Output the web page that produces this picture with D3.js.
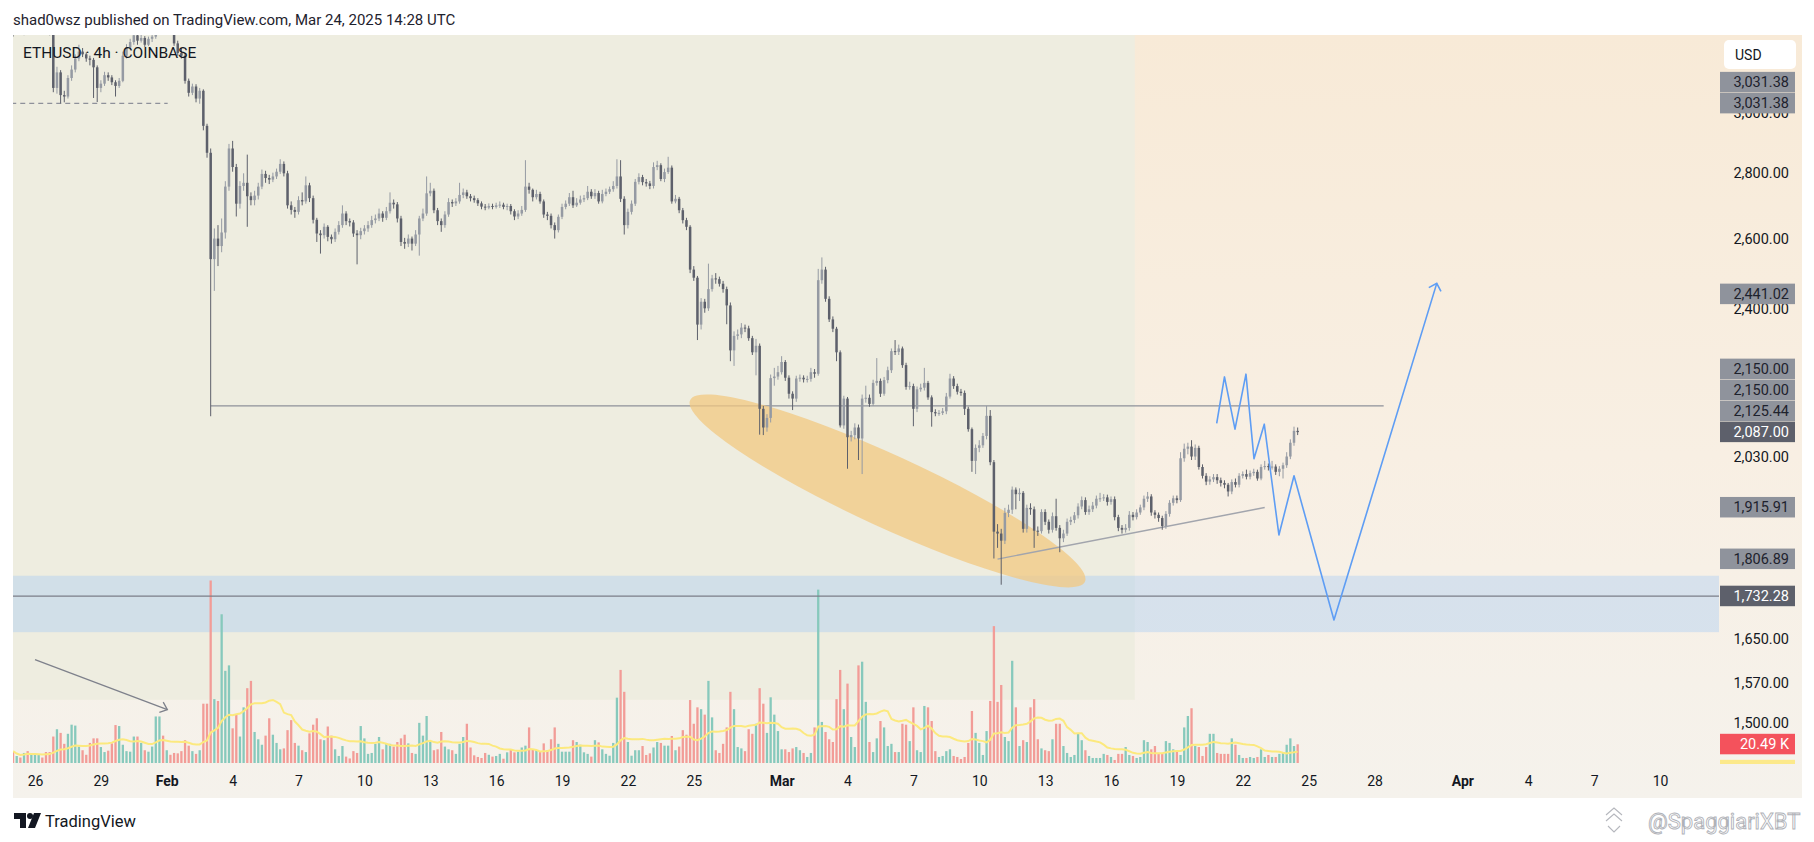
<!DOCTYPE html>
<html>
<head>
<meta charset="utf-8">
<title>ETHUSD 4h</title>
<script src="https://cdnjs.cloudflare.com/ajax/libs/d3/7.8.5/d3.min.js"></script>
<style>
  html, body { margin: 0; padding: 0; background: #ffffff; }
  svg { display: block; font-family: Roboto, "Noto Sans", sans-serif; }
</style>
</head>
<body>
<div id="chart"></div>
<script>
// ---- 4h candles, ETHUSD Coinbase (6 bars per day) ----
const firstBar = "2025-01-25T00:00Z";
const barHours = 4;
const firstOpen = 3325;

const closes = [
  3320, 3335, 3310, 3322, 3305, 3318,   // Jan 25
  3330, 3340, 3325, 3310, 3290, 3085,   // Jan 26
  3140, 3060, 3055, 3120, 3150, 3190,   // Jan 27
  3215, 3205, 3190, 3185, 3158, 3085,   // Jan 28
  3100, 3130, 3122, 3105, 3092, 3110,   // Jan 29
  3200, 3230, 3250, 3275, 3255, 3265,   // Jan 30
  3240, 3262, 3270, 3300, 3320, 3310,   // Jan 31
  3330, 3300, 3245, 3210, 3200, 3110,   // Feb 1
  3068, 3090, 3048, 3075, 2955, 2866,   // Feb 2
  2540, 2600, 2578, 2618, 2758, 2880,   // Feb 3
  2820, 2705, 2760, 2770, 2728, 2716,   // Feb 4
  2730, 2758, 2798, 2785, 2780, 2790,   // Feb 5
  2805, 2830, 2800, 2700, 2686, 2680,   // Feb 6
  2716, 2712, 2762, 2722, 2656, 2615,   // Feb 7
  2610, 2635, 2605, 2598, 2620, 2640,   // Feb 8
  2675, 2652, 2648, 2615, 2610, 2622,   // Feb 9
  2630, 2640, 2655, 2660, 2675, 2662,   // Feb 10
  2682, 2708, 2703, 2660, 2590, 2585,   // Feb 11
  2600, 2585, 2612, 2660, 2675, 2737,   // Feb 12
  2745, 2685, 2652, 2640, 2672, 2710,   // Feb 13
  2706, 2712, 2732, 2740, 2728, 2722,   // Feb 14
  2716, 2706, 2696, 2693, 2698, 2695,   // Feb 15
  2700, 2702, 2695, 2698, 2682, 2666,   // Feb 16
  2675, 2686, 2758, 2748, 2725, 2735,   // Feb 17
  2712, 2672, 2668, 2640, 2625, 2665,   // Feb 18
  2695, 2705, 2725, 2700, 2708, 2718,   // Feb 19
  2722, 2742, 2728, 2738, 2712, 2735,   // Feb 20
  2742, 2750, 2760, 2790, 2720, 2640,   // Feb 21
  2680, 2705, 2773, 2788, 2772, 2768,   // Feb 22
  2760, 2820, 2826, 2782, 2804, 2818,   // Feb 23
  2712, 2720, 2685, 2655, 2635, 2510,   // Feb 24
  2487, 2358, 2420, 2402, 2455, 2485,   // Feb 25
  2483, 2470, 2455, 2410, 2290, 2328,   // Feb 26
  2332, 2350, 2348, 2322, 2285, 2302,   // Feb 27
  2143, 2098, 2121, 2219, 2223, 2234,   // Feb 28
  2260, 2220, 2180, 2168, 2218, 2220,   // Mar 1
  2216, 2217, 2234, 2230, 2480, 2510,   // Mar 2
  2428, 2372, 2347, 2285, 2103, 2168,   // Mar 3
  2075, 2080, 2098, 2072, 2168, 2170,   // Mar 4
  2155, 2207, 2212, 2180, 2214, 2239,   // Mar 5
  2288, 2286, 2295, 2252, 2197, 2199,   // Mar 6
  2143, 2191, 2195, 2207, 2171, 2135,   // Mar 7
  2132, 2133, 2137, 2173, 2218, 2199,   // Mar 8
  2185, 2182, 2143, 2094, 2020, 2050,   // Mar 9
  2056, 2078, 2126, 2017, 1864, 1860,   // Mar 10
  1845, 1904, 1911, 1955, 1945, 1948,   // Mar 11
  1870, 1915, 1912, 1866, 1865, 1906,   // Mar 12
  1885, 1868, 1897, 1872, 1850, 1860,   // Mar 13
  1885, 1889, 1899, 1918, 1932, 1906,   // Mar 14
  1912, 1920, 1935, 1936, 1938, 1928,   // Mar 15
  1934, 1895, 1872, 1868, 1872, 1900,   // Mar 16
  1895, 1905, 1916, 1935, 1940, 1905,   // Mar 17
  1900, 1893, 1876, 1902, 1926, 1936,   // Mar 18
  1932, 2026, 2048, 2053, 2030, 2050,   // Mar 19
  2006, 1986, 1973, 1978, 1983, 1976,   // Mar 20
  1970, 1966, 1951, 1972, 1966, 1986,   // Mar 21
  1990, 1984, 1992, 1995, 1980, 2006,   // Mar 22
  2008, 2006, 2007, 1995, 2002, 2010,   // Mar 23
  2030, 2062, 2090, 2087               // Mar 24
];

const highs = [
  3345, 3348, 3340, 3332, 3330, 3326,
  3342, 3355, 3348, 3332, 3318, 3298,
  3160, 3148, 3075, 3130, 3165, 3205,
  3240, 3228, 3212, 3200, 3192, 3165,
  3112, 3142, 3140, 3130, 3112, 3120,
  3215, 3242, 3262, 3290, 3282, 3278,
  3272, 3270, 3285, 3318, 3340, 3332,
  3345, 3338, 3308, 3255, 3228, 3208,
  3118, 3100, 3098, 3085, 3080, 2962,
  2880, 2630, 2640, 2660, 2775, 2895,
  2905, 2830, 2775, 2800, 2860, 2740,
  2745, 2770, 2812, 2808, 2795, 2802,
  2815, 2845, 2838, 2808, 2712, 2695,
  2728, 2740, 2790, 2770, 2730, 2662,
  2625, 2645, 2640, 2612, 2630, 2652,
  2700, 2682, 2660, 2655, 2625, 2632,
  2640, 2652, 2668, 2672, 2690, 2682,
  2695, 2740, 2718, 2710, 2668, 2602,
  2612, 2606, 2625, 2668, 2690, 2790,
  2770, 2752, 2692, 2660, 2682, 2722,
  2718, 2722, 2770, 2752, 2748, 2735,
  2730, 2722, 2712, 2704, 2706, 2705,
  2708, 2712, 2708, 2705, 2704, 2688,
  2685, 2698, 2842, 2770, 2752, 2748,
  2742, 2718, 2680, 2675, 2648, 2672,
  2705, 2715, 2738, 2745, 2722, 2730,
  2732, 2760, 2750, 2750, 2745, 2748,
  2752, 2758, 2775, 2845, 2842, 2728,
  2690, 2715, 2782, 2800, 2795, 2782,
  2776, 2835, 2840, 2832, 2815, 2853,
  2825, 2732, 2726, 2692, 2662, 2640,
  2520, 2492, 2430, 2428, 2527, 2495,
  2500, 2490, 2478, 2462, 2418, 2340,
  2345, 2362, 2358, 2355, 2328, 2320,
  2308, 2150, 2130, 2228, 2245, 2250,
  2275, 2265, 2226, 2186, 2225, 2228,
  2226, 2225, 2245, 2242, 2512, 2545,
  2518, 2435, 2380, 2352, 2290, 2175,
  2172, 2090, 2108, 2105, 2178, 2200,
  2178, 2215, 2270, 2218, 2222, 2248,
  2295, 2317, 2305, 2300, 2258, 2210,
  2205, 2198, 2205, 2245, 2212, 2176,
  2142, 2140, 2145, 2182, 2230, 2224,
  2205, 2192, 2188, 2148, 2098, 2058,
  2068, 2085, 2150, 2140, 2022, 1880,
  1870, 1915, 1922, 1962, 1960, 1958,
  1952, 1922, 1925, 1918, 1875, 1912,
  1912, 1890, 1905, 1935, 1878, 1868,
  1892, 1896, 1906, 1925, 1940, 1938,
  1920, 1928, 1942, 1948, 1945, 1944,
  1940, 1940, 1900, 1878, 1880, 1908,
  1906, 1912, 1922, 1942, 1950, 1945,
  1910, 1905, 1898, 1908, 1932, 1942,
  1942, 2040, 2060, 2062, 2068, 2058,
  2055, 2012, 1992, 1985, 1990, 1990,
  1982, 1976, 1970, 1978, 1980, 1992,
  1996, 2000, 1998, 2002, 2000, 2012,
  2020, 2014, 2020, 2012, 2008, 2016,
  2040, 2070, 2100, 2098
];

const lows = [
  3270, 3312, 3298, 3275, 3292, 3296,
  3310, 3322, 3315, 3298, 3275, 3070,
  3065, 3031, 3035, 3048, 3110, 3140,
  3180, 3195, 3178, 3165, 3050, 3036,
  3070, 3092, 3110, 3095, 3055, 3085,
  3105, 3190, 3222, 3240, 3240, 3248,
  3232, 3235, 3250, 3262, 3290, 3296,
  3300, 3290, 3236, 3200, 3190, 3100,
  3055, 3060, 3035, 3030, 2940, 2850,
  2125, 2450, 2520, 2560, 2600, 2745,
  2805, 2666, 2690, 2745, 2635, 2700,
  2700, 2718, 2750, 2770, 2766, 2772,
  2782, 2798, 2790, 2690, 2672, 2662,
  2672, 2700, 2705, 2710, 2645, 2590,
  2556, 2600, 2592, 2585, 2590, 2612,
  2632, 2640, 2636, 2605, 2525, 2598,
  2612, 2620, 2632, 2645, 2652, 2650,
  2655, 2675, 2690, 2648, 2578, 2570,
  2575, 2565, 2578, 2550, 2652, 2668,
  2728, 2676, 2640, 2620, 2632, 2665,
  2695, 2698, 2705, 2722, 2720, 2712,
  2708, 2698, 2688, 2685, 2688, 2688,
  2690, 2692, 2688, 2685, 2672, 2655,
  2658, 2668, 2680, 2736, 2712, 2718,
  2705, 2662, 2655, 2630, 2600, 2618,
  2658, 2688, 2698, 2692, 2695, 2702,
  2710, 2716, 2720, 2720, 2705, 2706,
  2728, 2735, 2742, 2752, 2710, 2612,
  2630, 2672, 2698, 2765, 2762, 2758,
  2750, 2752, 2810, 2775, 2772, 2798,
  2705, 2706, 2676, 2645, 2625, 2500,
  2478, 2317, 2345, 2390, 2395, 2448,
  2470, 2462, 2445, 2359, 2262, 2250,
  2318, 2322, 2338, 2315, 2278, 2226,
  2081, 2080, 2088, 2110, 2200, 2215,
  2228, 2212, 2168, 2140, 2160, 2210,
  2208, 2208, 2210, 2220, 2225, 2470,
  2420, 2365, 2338, 2262, 2098, 2095,
  2002, 2065, 2070, 2022, 1990, 2158,
  2148, 2150, 2200, 2172, 2175, 2206,
  2232, 2278, 2278, 2245, 2190, 2190,
  2101, 2135, 2185, 2188, 2165, 2100,
  2125, 2126, 2128, 2130, 2168, 2192,
  2178, 2175, 2128, 2088, 1995, 1990,
  2040, 2050, 2070, 2010, 1808, 1830,
  1755, 1838, 1895, 1902, 1912, 1930,
  1862, 1862, 1900, 1830, 1855, 1860,
  1878, 1860, 1862, 1866, 1821, 1842,
  1855, 1878, 1882, 1892, 1912, 1900,
  1900, 1906, 1914, 1928, 1930, 1920,
  1922, 1888, 1865, 1860, 1862, 1866,
  1888, 1890, 1900, 1910, 1928, 1898,
  1892, 1885, 1868, 1870, 1896, 1920,
  1925, 1928, 2018, 2035, 2022, 2022,
  2000, 1980, 1965, 1966, 1972, 1968,
  1962, 1958, 1940, 1945, 1960, 1960,
  1980, 1978, 1978, 1986, 1975, 1976,
  2000, 1998, 2000, 1988, 1985, 1980,
  2004, 2024, 2055, 2080
];

// volume per bar, thousands of ETH
const volumes = [
  13, 7.7, 6, 11, 13, 9,
  9, 9, 6, 12, 12, 29,
  37, 33, 21, 32, 42, 41,
  18, 14, 9, 22, 27, 27,
  17.5, 12, 13.5, 21.5, 41.6, 40.5,
  20, 13, 12.4, 29, 29, 22,
  14, 12.4, 18, 51, 51, 30,
  14, 9, 11, 10.6, 13, 25,
  19, 13, 10, 14, 65, 65,
  200, 70, 68, 163, 101, 107,
  38, 53, 29, 61, 82, 90,
  34, 26, 20, 30, 49, 31,
  22, 15, 16, 36, 47, 22,
  19, 14, 12, 32.5, 42, 49,
  26, 25, 40, 30, 15, 7.7,
  18.6, 7, 5, 13, 11, 40.5,
  27, 10, 11, 21, 28.5, 15,
  21, 21, 18, 23, 27, 31,
  21.5, 11, 10, 44, 30, 51.5,
  23, 14, 15, 34, 18, 15,
  14, 10, 21, 28.5, 43, 17,
  8.4, 6.6, 5.5, 11, 9, 7,
  7.7, 10, 4.7, 11.7, 15, 11.7,
  12.4, 17, 19, 39, 15, 14,
  12.4, 21.5, 14, 26, 39, 21,
  12.4, 12.4, 12.4, 25, 23, 20,
  11.7, 10, 7, 25, 22.6, 15,
  10, 8, 22, 71.6, 102, 78,
  23, 8, 14, 14, 18.6, 8.8,
  10.6, 17, 23, 22, 19, 19,
  29.6, 14, 18, 36, 31, 69,
  43, 61, 59, 53, 90, 50,
  14, 11, 21, 39, 78, 59,
  17.5, 16, 13, 37, 32, 43,
  82, 65, 33, 72, 53, 35,
  15, 15, 12, 16, 17.5, 14,
  11, 6.6, 11, 39, 190, 45,
  34, 26, 23, 70, 102, 59,
  87, 28.5, 17.5, 107, 111, 67,
  23, 12, 27, 46, 39, 18.6,
  21, 12, 12, 43, 42, 24,
  61, 14, 12, 62.5, 61, 46,
  13, 6.6, 7.7, 13, 15, 7.7,
  6.6, 4.4, 6.6, 22, 57, 33,
  22, 8.8, 35, 68, 150, 67,
  85.5, 28.5, 24, 112, 61, 18.6,
  25, 23, 61, 70, 26, 16,
  14, 13, 26, 43, 43, 18.6,
  11, 6.6, 8.8, 32, 25, 14,
  7.7, 5.5, 5.5, 5.5, 10, 8.8,
  6.6, 3.3, 10, 10, 17.5, 8.8,
  7.7, 5.5, 6.6, 25, 23, 15,
  18.6, 11, 10, 24, 22, 15,
  14, 8.8, 39, 51.5, 60, 18.6,
  17.5, 7.7, 17.5, 32, 32, 11,
  10, 10, 10, 27, 20, 8.8,
  5.5, 5.5, 6.6, 5.5, 6.6, 15,
  6.6, 8.8, 6.6, 6.6, 10, 11,
  20, 27, 18.6, 20.49
];
const volumeMaLength = 20;

// ---- time axis ----
const tickDates = ["2025-01-26", "2025-01-29", "2025-02-01", "2025-02-04", "2025-02-07", "2025-02-10",
  "2025-02-13", "2025-02-16", "2025-02-19", "2025-02-22", "2025-02-25", "2025-03-01", "2025-03-04",
  "2025-03-07", "2025-03-10", "2025-03-13", "2025-03-16", "2025-03-19", "2025-03-22", "2025-03-25",
  "2025-03-28", "2025-04-01", "2025-04-04", "2025-04-07", "2025-04-10"];
const tickLabels = ["26", "29", "Feb", "4", "7", "10", "13", "16", "19", "22", "25", "Mar", "4",
  "7", "10", "13", "16", "19", "22", "25", "28", "Apr", "4", "7", "10"];
const monthLabels = ["Feb", "Mar", "Apr"];

// ---- price axis ----
const priceTicks = [3000, 2800, 2600, 2400, 2030, 1650, 1570, 1500];
const markerPrices = [3031.38, 3031.38, 2441.02, 2150.00, 2150.00, 2125.44, 2087.00, 1915.91, 1806.89, 1732.28];
const markerKinds = ["line", "line", "line", "line", "line", "line", "last", "line", "line", "last"];

// ---- drawings ----
const greenZone = { from: "2025-01-20T00:00Z", to: "2025-03-17T02:00Z", high: 3600, low: 1540 };
const blueZone = { from: "2025-01-20T00:00Z", to: "2025-05-01T00:00Z", high: 1773, low: 1663 };
const supportLevel = { from: "2025-01-20T00:00Z", to: "2025-05-01T00:00Z", price: 1732.28 };
const crashLevel = { from: "2025-02-03T00:00Z", to: "2025-03-28T10:00Z", price: 2150 };
const janLowLevel = { from: "2025-01-20T00:00Z", to: "2025-02-01T01:00Z", price: 3031.38 };
const ellipseTimes = ["2025-02-24T20:00Z", "2025-03-14T19:30Z"];
const ellipsePrices = [2164, 1761];
const trendTimes = ["2025-03-10T20:00Z", "2025-03-23T00:00Z"];
const trendPrices = [1806.89, 1915.91];
const pathTimes = ["2025-03-20T19:30Z", "2025-03-21T04:00Z", "2025-03-21T15:30Z", "2025-03-22T03:30Z",
  "2025-03-22T12:15Z", "2025-03-22T23:30Z", "2025-03-23T15:30Z", "2025-03-24T08:00Z",
  "2025-03-26T03:40Z", "2025-03-30T20:00Z"];
const pathPrices = [2108, 2222, 2094, 2229, 2025, 2106, 1857, 1986, 1686, 2471];
const arrowTimes = ["2025-01-26T00:00Z", "2025-02-01T00:40Z"];
const arrowPrices = [1612, 1523];

/**
 * Draws the TradingView style candlestick snapshot.
 */
function drawChart() {
    const width = 1814, height = 842;
    const pane = { left: 13, right: 1719, top: 35, bottom: 763 };
    const scaleRight = 1802;
    const axisBottom = 798;

    const svg = d3.select("#chart")
        .append("svg")
        .attr("width", width)
        .attr("height", height);

    const defs = svg.append("defs");
    const grad = defs.append("linearGradient")
        .attr("id", "bg").attr("x1", 0).attr("y1", 0).attr("x2", 0).attr("y2", 1);
    grad.append("stop").attr("offset", "0%").attr("stop-color", "#F8EAD7");
    grad.append("stop").attr("offset", "55%").attr("stop-color", "#F8EFE3");
    grad.append("stop").attr("offset", "100%").attr("stop-color", "#F5F2EC");
    defs.append("clipPath").attr("id", "paneClip").append("rect")
        .attr("x", pane.left).attr("y", pane.top)
        .attr("width", pane.right - pane.left).attr("height", pane.bottom - pane.top);
    defs.append("clipPath").attr("id", "scaleClip").append("rect")
        .attr("x", pane.right).attr("y", pane.top)
        .attr("width", scaleRight - pane.right).attr("height", pane.bottom + 1 - pane.top);

    // Scales
    const x = d3.scaleUtc()
        .domain([new Date("2025-01-26T00:00Z"), new Date("2025-04-10T00:00Z")])
        .range([35, 1660]);
    const y = d3.scaleLog()
        .domain([1500, 2800])
        .range([723.0, 173.3]);
    const yVol = d3.scaleLinear()
        .domain([0, 200])
        .range([pane.bottom, 580.5]);

    // Candle records
    const t0 = new Date(firstBar).getTime();
    const bars = closes.map((c, i) => ({
        t: new Date(t0 + i * barHours * 3600e3),
        o: i === 0 ? firstOpen : closes[i - 1],
        h: highs[i],
        l: lows[i],
        c: c,
        v: volumes[i]
    }));
    bars.forEach((b, i) => {
        const from = Math.max(0, i - volumeMaLength + 1);
        b.ma = d3.mean(volumes.slice(from, i + 1));
    });

    // Background for pane, price scale and time scale
    svg.append("rect")
        .attr("x", pane.left).attr("y", pane.top)
        .attr("width", scaleRight - pane.left).attr("height", axisBottom - pane.top)
        .attr("fill", "url(#bg)");

    const plot = svg.append("g").attr("clip-path", "url(#paneClip)");

    const zoneRect = (z, fill) => plot.append("rect")
        .attr("x", x(new Date(z.from)))
        .attr("y", y(z.high))
        .attr("width", x(new Date(z.to)) - x(new Date(z.from)))
        .attr("height", y(z.low) - y(z.high))
        .attr("fill", fill);
    zoneRect(greenZone, "#EEEDE0");
    zoneRect(blueZone, "rgba(156,197,247,0.35)");

    // Volume bars
    plot.append("g").selectAll("rect")
        .data(bars)
        .enter()
        .append("rect")
        .attr("x", d => x(d.t) - 1.15)
        .attr("y", d => yVol(d.v))
        .attr("width", 2.3)
        .attr("height", d => pane.bottom - yVol(d.v))
        .attr("fill", d => d.c >= d.o ? "#87C9BC" : "#F29C97");

    // Volume moving average
    plot.append("path")
        .datum(bars)
        .attr("fill", "none")
        .attr("stroke", "#FCE97E")
        .attr("stroke-width", 2)
        .attr("d", d3.line().x(d => x(d.t)).y(d => yVol(d.ma)));

    // Horizontal levels
    const level = (lv, color, dash) => plot.append("line")
        .attr("x1", x(new Date(lv.from))).attr("x2", x(new Date(lv.to)))
        .attr("y1", y(lv.price)).attr("y2", y(lv.price))
        .attr("stroke", color).attr("stroke-width", 1.3)
        .attr("stroke-dasharray", dash || null);
    level(supportLevel, "#7B7E88");
    level(crashLevel, "#8E919A");
    level(janLowLevel, "#8E919A", "5,4");

    // Highlight ellipse
    const e1 = [x(new Date(ellipseTimes[0])), y(ellipsePrices[0])];
    const e2 = [x(new Date(ellipseTimes[1])), y(ellipsePrices[1])];
    const angle = Math.atan2(e2[1] - e1[1], e2[0] - e1[0]) * 180 / Math.PI;
    plot.append("ellipse")
        .attr("cx", (e1[0] + e2[0]) / 2)
        .attr("cy", (e1[1] + e2[1]) / 2)
        .attr("rx", Math.hypot(e2[0] - e1[0], e2[1] - e1[1]) / 2)
        .attr("ry", 36)
        .attr("transform", `rotate(${angle},${(e1[0] + e2[0]) / 2},${(e1[1] + e2[1]) / 2})`)
        .attr("fill", "rgba(242,200,130,0.75)");

    // Rising trend line
    plot.append("line")
        .attr("x1", x(new Date(trendTimes[0]))).attr("y1", y(trendPrices[0]))
        .attr("x2", x(new Date(trendTimes[1]))).attr("y2", y(trendPrices[1]))
        .attr("stroke", "#A2A5AD").attr("stroke-width", 1.4);

    // Candles
    const candles = plot.append("g").selectAll("g")
        .data(bars)
        .enter()
        .append("g")
        .attr("fill", d => d.c >= d.o ? "#959AA3" : "#5D606B")
        .attr("stroke", d => d.c >= d.o ? "#959AA3" : "#5D606B");
    candles.append("line")
        .attr("x1", d => x(d.t)).attr("x2", d => x(d.t))
        .attr("y1", d => y(d.h)).attr("y2", d => y(d.l))
        .attr("stroke-width", 1);
    candles.append("rect")
        .attr("stroke", "none")
        .attr("x", d => x(d.t) - 1.25)
        .attr("width", 2.5)
        .attr("y", d => y(Math.max(d.o, d.c)))
        .attr("height", d => Math.max(1, y(Math.min(d.o, d.c)) - y(Math.max(d.o, d.c))));

    // Arrow helper
    const arrow = (pts, color, width, len, spread) => {
        plot.append("path")
            .attr("d", d3.line()(pts))
            .attr("fill", "none").attr("stroke", color)
            .attr("stroke-width", width).attr("stroke-linejoin", "round");
        const [tx, ty] = pts[pts.length - 1];
        const [px, py] = pts[pts.length - 2];
        const back = Math.atan2(py - ty, px - tx);
        const head = [-spread, spread].map(a => [tx + len * Math.cos(back + a), ty + len * Math.sin(back + a)]);
        plot.append("path")
            .attr("d", `M${head[0]}L${tx},${ty}L${head[1]}`)
            .attr("fill", "none").attr("stroke", color).attr("stroke-width", width);
    };

    // Projected path
    arrow(pathTimes.map((t, i) => [x(new Date(t)), y(pathPrices[i])]), "#5E9DF4", 1.6, 9, Math.PI / 4);
    // Arrow in the volume area
    arrow(arrowTimes.map((t, i) => [x(new Date(t)), y(arrowPrices[i])]), "#7E818B", 1.3, 8.5, 0.7);

    // Legend
    svg.append("text")
        .attr("x", 23).attr("y", 53)
        .attr("dominant-baseline", "central")
        .attr("font-size", 15.5)
        .attr("fill", "#131722")
        .text("ETHUSD · 4h · COINBASE");

    // Time axis
    const xAxis = svg.append("g")
        .attr("transform", `translate(0,${pane.bottom})`)
        .call(d3.axisBottom(x)
            .tickValues(tickDates.map(d => new Date(d + "T00:00Z")))
            .tickFormat((d, i) => tickLabels[i])
            .tickSize(0));
    xAxis.select(".domain").remove();
    xAxis.selectAll("text")
        .attr("y", 18)
        .attr("dy", "0.35em")
        .attr("font-size", 14)
        .attr("font-family", "Roboto, sans-serif")
        .attr("fill", "#131722")
        .attr("font-weight", (d, i) => monthLabels.includes(tickLabels[i]) ? "bold" : "normal");

    // Price axis (regular ticks sit underneath the marker boxes)
    const scaleArea = svg.append("g").attr("clip-path", "url(#scaleClip)");
    const yAxis = scaleArea.append("g")
        .attr("transform", "translate(1789,0)")
        .call(d3.axisRight(y)
            .tickValues(priceTicks)
            .tickFormat(d3.format(",.2f"))
            .tickSize(0)
            .tickPadding(0));
    yAxis.select(".domain").remove();
    yAxis.selectAll("text")
        .attr("text-anchor", "end")
        .attr("font-size", 14.5)
        .attr("font-family", "Roboto, sans-serif")
        .attr("fill", "#131722");

    // Price markers, stacked upwards like the platform does
    const boxH = 21;
    const markers = markerPrices.map((p, i) => ({ p, kind: markerKinds[i], y: y(p) }))
        .sort((a, b) => b.y - a.y);
    markers.forEach((m, i) => {
        if (i > 0) m.y = Math.min(m.y, markers[i - 1].y - boxH);
    });

    const box = (cy, text, fill, color) => {
        scaleArea.append("rect")
            .attr("x", 1720).attr("y", cy - boxH / 2)
            .attr("width", 75).attr("height", boxH - 0.5)
            .attr("fill", fill);
        scaleArea.append("text")
            .attr("x", 1789).attr("y", cy)
            .attr("text-anchor", "end").attr("dominant-baseline", "central")
            .attr("font-size", 14.5).attr("fill", color)
            .text(text);
    };

    // Volume and its average on the scale
    const lastBar = bars[bars.length - 1];
    const volY = yVol(lastBar.v);
    box(volY + boxH + 5, d3.format(".2f")(lastBar.ma) + " K", "#FCE98A", "#131722");
    box(volY, d3.format(".2f")(lastBar.v) + " K", "#F4525C", "#FFFFFF");
    markers.forEach(m => {
        const dark = m.kind === "last";
        box(m.y, d3.format(",.2f")(m.p), dark ? "#5D606B" : "#8F939C", dark ? "#FFFFFF" : "#1E222D");
    });

    // Currency button
    svg.append("rect")
        .attr("x", 1724).attr("y", 40).attr("width", 72).attr("height", 29)
        .attr("rx", 5).attr("fill", "#FFFFFF");
    svg.append("text")
        .attr("x", 1735).attr("y", 55)
        .attr("dominant-baseline", "central")
        .attr("font-size", 14).attr("fill", "#131722")
        .text("USD");

    // Header
    svg.append("text")
        .attr("x", 13).attr("y", 20)
        .attr("dominant-baseline", "central")
        .attr("font-size", 15)
        .attr("fill", "#1E222D")
        .text("shad0wsz published on TradingView.com, Mar 24, 2025 14:28 UTC");

    // Footer logo
    const logo = svg.append("g").attr("fill", "#131722");
    logo.append("path").attr("d", "M14 813h12v15h-6v-9h-6z");
    logo.append("circle").attr("cx", 30).attr("cy", 816).attr("r", 3);
    logo.append("path").attr("d", "M34 813h7l-6 15h-7z");
    svg.append("text")
        .attr("x", 45).attr("y", 821)
        .attr("dominant-baseline", "central")
        .attr("font-size", 16.5)
        .attr("fill", "#131722")
        .text("TradingView");

    // Author watermark
    const wm = svg.append("g")
        .attr("fill", "none").attr("stroke", "#B5B7BD").attr("stroke-width", 1.1);
    wm.append("path").attr("d", "M1606 815l8-7l8 7M1606 821l8-7l8 7M1608 826l6 6l6-6");
    svg.append("text")
        .attr("x", 1648).attr("y", 821)
        .attr("dominant-baseline", "central")
        .attr("font-size", 22)
        .attr("fill", "#FFFFFF")
        .attr("stroke", "#B0B2B8")
        .attr("stroke-width", 0.9)
        .text("@SpaggiariXBT");
}

drawChart();
</script>
</body>
</html>
